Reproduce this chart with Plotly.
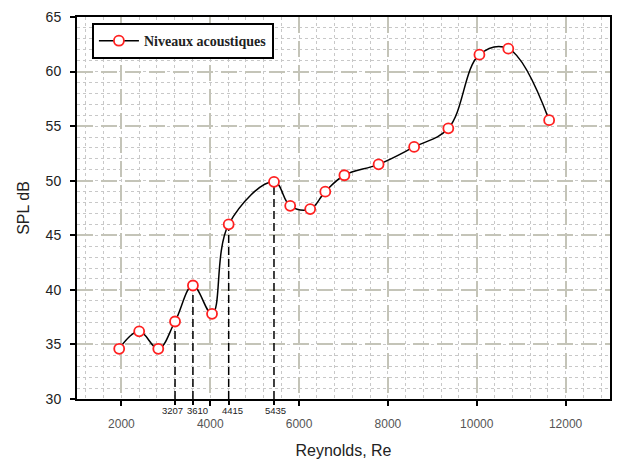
import plotly.graph_objects as go

reynolds = [1950, 2400, 2830, 3207, 3610, 4040, 4415, 5435, 5800, 6250,
            6590, 7020, 7790, 8590, 9360, 10060, 10710, 11630]
spl = [34.6, 36.2, 34.6, 37.1, 40.4, 37.8, 46.0, 49.9, 47.7, 47.4,
       49.0, 50.5, 51.5, 53.1, 54.8, 61.55, 62.1, 55.55]
marked_re = [3207, 3610, 4415, 5435]
marked_spl = [37.1, 40.4, 46.0, 49.9]
marked_labels = ["3207", "3610", "4415", "5435"]
x_ticks = [2000, 4000, 6000, 8000, 10000, 12000]
x_tick_text = ["2000", "4000", "6000", "8000", "10000", "12000"]
y_ticks = [30, 35, 40, 45, 50, 55, 60, 65]
x_range = [1000, 13000]
y_range = [30, 65]

fig = go.Figure()

# dashed drop lines from marked points to the x-axis
for xv, yv in zip(marked_re, marked_spl):
    fig.add_trace(go.Scatter(x=[xv, xv], y=[y_range[0], yv], mode="lines",
                             line=dict(color="black", width=1.5, dash="8px,4px"),
                             showlegend=False, hoverinfo="skip"))

fig.add_trace(go.Scatter(
    x=reynolds, y=spl, mode="lines+markers", name="<b>Niveaux acoustiques</b>",
    line=dict(color="black", width=1.5, shape="spline", smoothing=1.1),
    marker=dict(symbol="circle", size=10, color="white",
                line=dict(color="#ff2020", width=1.8)),
))

# invisible trace to activate the secondary x-axis for marked value ticks
fig.add_trace(go.Scatter(x=marked_re, y=marked_spl, xaxis="x2", mode="markers",
                         marker=dict(opacity=0), showlegend=False, hoverinfo="skip"))

# small value labels under the marked ticks
label_shift = [-3, 5, 4, 2]
for xv, lab, sh in zip(marked_re, marked_labels, label_shift):
    fig.add_annotation(x=xv, y=0, xref="x", yref="paper", text=lab,
                       showarrow=False, yanchor="top", yshift=-4, xshift=sh,
                       font=dict(size=9.5, color="#222", family="Liberation Sans, Arial"))

major_grid = "#c4c4b8"
minor_grid = "#c8c8c8"

fig.update_layout(
    width=617, height=462,
    margin=dict(l=77, r=5, t=17, b=60),
    paper_bgcolor="white", plot_bgcolor="white",
    font=dict(family="Liberation Sans, Arial", color="#222"),
    xaxis=dict(
        range=x_range, tickvals=x_ticks, ticktext=x_tick_text, ticks="outside",
        ticklen=5, tickwidth=1.5, tickangle=0,
        tickcolor="black", tickfont=dict(size=12, color="#555"),
        showgrid=True, gridcolor=major_grid, gridwidth=2, griddash="16px,8px",
        minor=dict(dtick=400, showgrid=True, gridcolor=minor_grid, gridwidth=1,
                   griddash="dot", ticks=""),
        showline=True, linecolor="black", linewidth=2, mirror=True,
        zeroline=False, ticklabelstandoff=8,
        title=dict(text="Reynolds, Re", font=dict(size=16, color="#222"), standoff=14),
    ),
    xaxis2=dict(
        range=x_range, overlaying="x", side="bottom", tickvals=marked_re,
        showticklabels=False, ticks="outside", ticklen=5, tickwidth=1.5,
        tickcolor="black", showgrid=False, showline=False, zeroline=False,
    ),
    yaxis=dict(
        range=y_range, tickvals=y_ticks, ticks="outside", ticklen=5, tickwidth=1.5,
        tickcolor="black", tickfont=dict(size=14, color="#222"),
        showgrid=True, gridcolor=major_grid, gridwidth=2, griddash="16px,8px",
        minor=dict(dtick=1, showgrid=True, gridcolor=minor_grid, gridwidth=1,
                   griddash="dot", ticks=""),
        showline=True, linecolor="black", linewidth=2, mirror=True,
        zeroline=False, ticklabelstandoff=6,
        title=dict(text="SPL dB", font=dict(size=16, color="#222"), standoff=12),
    ),
    legend=dict(
        x=0.028, y=0.984, xanchor="left", yanchor="top",
        bgcolor="white", bordercolor="black", borderwidth=2,
        font=dict(family="Liberation Serif, Times New Roman", size=14, color="#222"),
        itemwidth=40,
    ),
)

fig.write_html("out.html")
